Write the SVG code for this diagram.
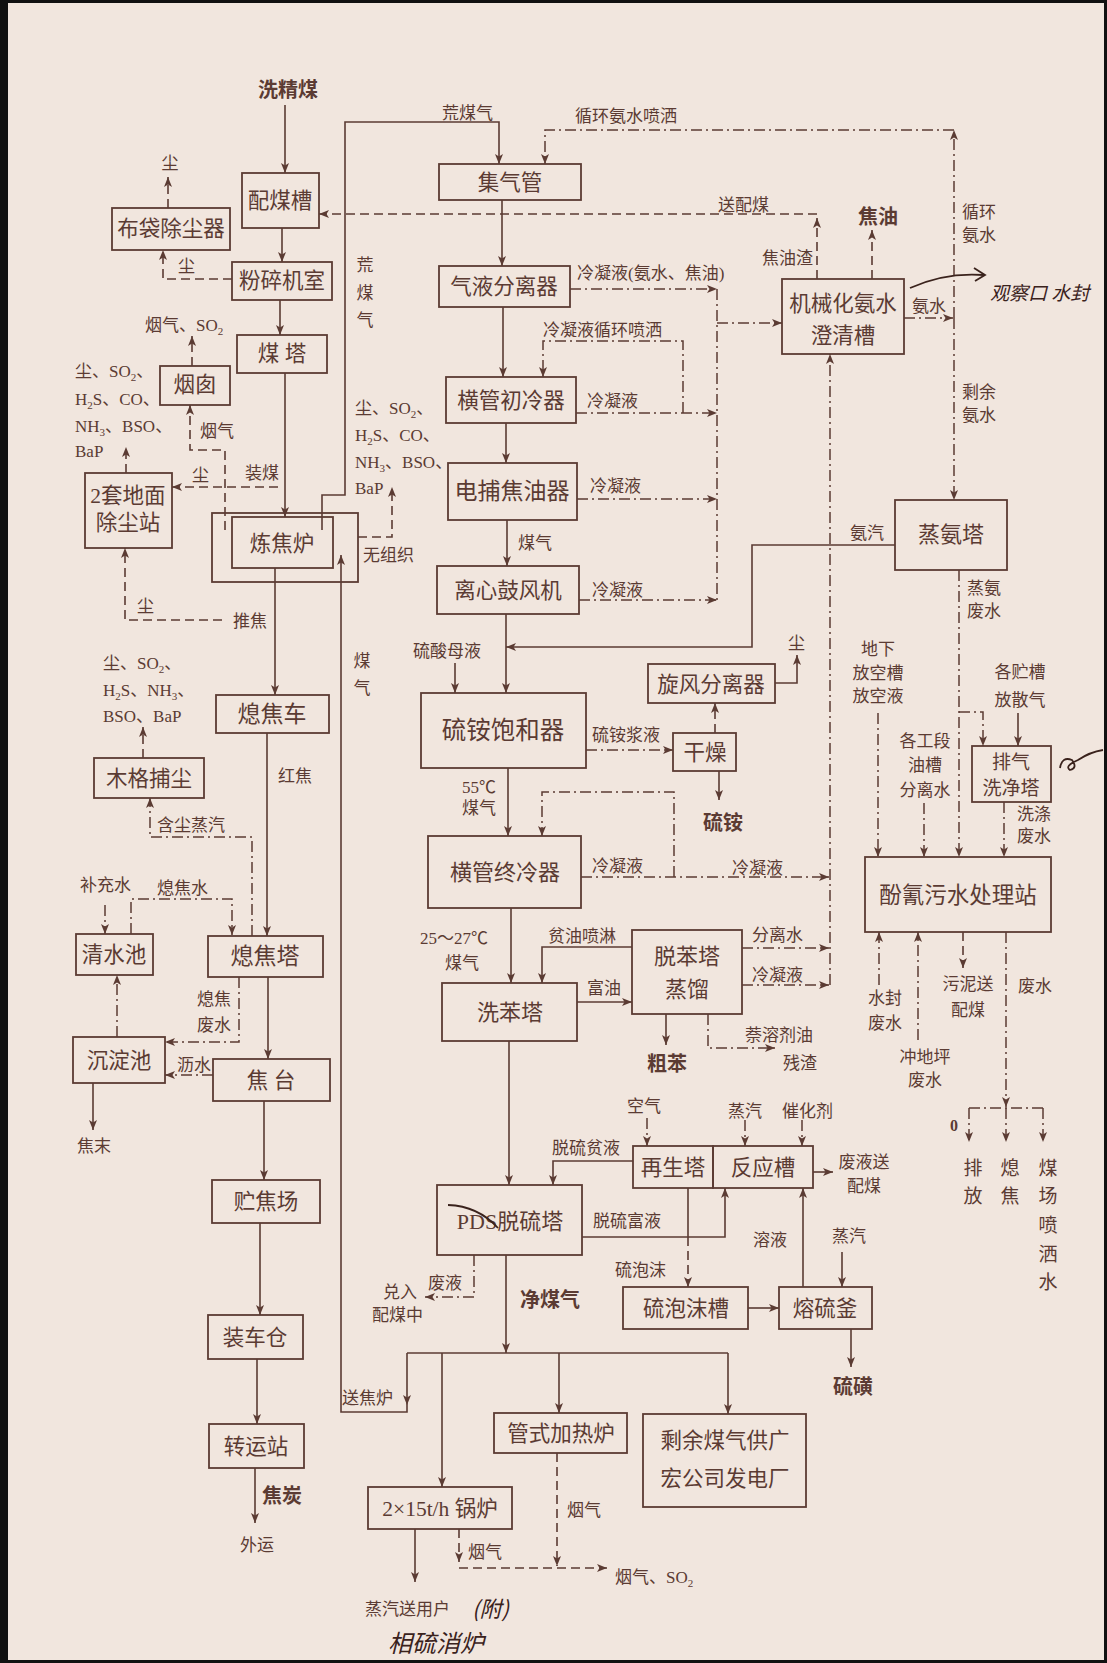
<svg xmlns="http://www.w3.org/2000/svg" width="1107" height="1663" viewBox="0 0 1107 1663">
<defs>
<marker id="ah" markerUnits="userSpaceOnUse" markerWidth="11" markerHeight="8" refX="10" refY="4" orient="auto">
<path d="M0,0 L10,4 L0,8 L2.5,4 z" fill="#5b3b33"/>
</marker>
<style>
.s{fill:none;stroke:#5b3b33;stroke-width:1.6}
.d{fill:none;stroke:#5b3b33;stroke-width:1.6;stroke-dasharray:9 5}
.dd{fill:none;stroke:#5b3b33;stroke-width:1.5;stroke-dasharray:11 4 2 4}
.a{marker-end:url(#ah)}
.box{fill:none;stroke:#5b3b33;stroke-width:1.8}
text{font-family:"Liberation Serif","Noto Sans CJK SC",serif;fill:#5b3b33}
.bt{font-size:21.5px;text-anchor:middle}
.lb{font-size:17px}
.c{text-anchor:middle}
.b{font-weight:bold;font-size:20px}
.hw{font-family:"Noto Sans CJK SC",sans-serif;fill:#3a221c;font-size:24px;font-style:italic}
.hp{fill:none;stroke:#3a221c;stroke-width:1.8}
</style>
</defs>
<rect x="0" y="0" width="1107" height="1663" fill="#f1e6de"/>
<g id="frame" fill="#111">
<rect x="0" y="0" width="8" height="1663"/>
<rect x="0" y="0" width="1107" height="3"/>
<rect x="1104" y="0" width="3" height="1663"/>
<rect x="0" y="1660" width="1107" height="3"/>
</g>

<g id="connectors">
<!-- solid -->
<path class="s a" d="M285,105 V173"/>
<path class="s a" d="M282,228 V262"/>
<path class="s a" d="M280,300 V335"/>
<path class="s a" d="M285,373 V517"/>
<path class="s a" d="M275,568 V695"/>
<path class="s a" d="M267,733 V936"/>
<path class="s a" d="M268,977 V1059"/>
<path class="s a" d="M264,1101 V1180"/>
<path class="s a" d="M260,1223 V1315"/>
<path class="s a" d="M257,1359 V1424"/>
<path class="s a" d="M255,1468 V1523"/>
<path class="s a" d="M93,1083 V1130"/>
<path class="s a" d="M322,530 V495 H345 V122 H499 V164"/>
<path class="s a" d="M502,200 V266"/>
<path class="s a" d="M503,307 V377"/>
<path class="s a" d="M506,423 V463"/>
<path class="s a" d="M507,520 V566"/>
<path class="s a" d="M506,614 V693"/>
<path class="s a" d="M895,545 H752 V647 H506"/>
<path class="s a" d="M455,663 V693"/>
<path class="s a" d="M508,768 V836"/>
<path class="s a" d="M719,771 V800"/>
<path class="s a" d="M775,683 H797 V655"/>
<path class="s a" d="M511,908 V983"/>
<path class="s a" d="M632,947 H542 V983"/>
<path class="s a" d="M577,1002 H632"/>
<path class="s a" d="M666,1014 V1045"/>
<path class="s a" d="M509,1041 V1185"/>
<path class="s a" d="M633,1161 H553 V1185"/>
<path class="s a" d="M582,1237 H725 V1188"/>
<path class="s" d="M688,1188 V1237"/>
<path class="s a" d="M813,1172 H833"/>
<path class="s a" d="M803,1287 V1188"/>
<path class="s a" d="M842,1252 V1287"/>
<path class="s a" d="M851,1329 V1367"/>
<path class="s a" d="M748,1308 H779"/>
<path class="s a" d="M506,1255 V1353"/>
<path class="s" d="M407,1353 H728"/>
<path class="s a" d="M407,1353 V1405"/>
<path class="s a" d="M407,1405 V1412 H341 V555"/>
<path class="s a" d="M442,1353 V1487"/>
<path class="s a" d="M559,1353 V1413"/>
<path class="s a" d="M728,1353 V1414"/>
<path class="s a" d="M415,1529 V1582"/>
<path class="s a" d="M1018,713 V746"/>
<!-- dashed -->
<path class="d a" d="M168,208 V177"/>
<path class="d a" d="M232,279 H163 V250"/>
<path class="d a" d="M192,366 V336"/>
<path class="d a" d="M225,530 V450 H190 V405"/>
<path class="d a" d="M278,487 H172"/>
<path class="d a" d="M126,473 V447"/>
<path class="d a" d="M222,620 H125 V548"/>
<path class="d a" d="M143,758 V727"/>
<path class="d a" d="M358,537 H392 V487"/>
<path class="d a" d="M817,279 V218"/>
<path class="d a" d="M817,214 H319"/>
<path class="d a" d="M872,279 V230"/>
<path class="d a" d="M715,733 V703"/>
<path class="d a" d="M459,1529 V1562"/>
<path class="d a" d="M459,1568 H607"/>
<path class="d a" d="M557,1453 V1566"/>
<path class="d a" d="M688,1237 V1287"/>
<path class="d a" d="M963,932 V968"/>
<!-- dash-dot -->
<path class="dd a" d="M954,318 V130"/>
<path class="dd a" d="M954,130 H545 V164"/>
<path class="dd a" d="M954,318 V500"/>
<path class="dd a" d="M904,318 H953"/>
<path class="dd a" d="M570,289 H717"/>
<path class="dd" d="M717,289 V604"/>
<path class="dd a" d="M717,323 H782"/>
<path class="dd a" d="M576,413 H717"/>
<path class="dd a" d="M683,413 V341 H543 V377"/>
<path class="dd a" d="M577,499 H717"/>
<path class="dd a" d="M579,600 H717"/>
<path class="dd a" d="M586,750 H673"/>
<path class="dd a" d="M674,877 V792 H542 V836"/>
<path class="dd a" d="M581,877 H829"/>
<path class="dd a" d="M742,948 H829"/>
<path class="dd a" d="M742,985 H829"/>
<path class="dd a" d="M830,985 V354"/>
<path class="dd a" d="M708,1014 V1048 H775"/>
<path class="dd a" d="M878,713 V857"/>
<path class="dd a" d="M924,803 V857"/>
<path class="dd a" d="M959,570 V857"/>
<path class="dd a" d="M959,712 H983 V746"/>
<path class="dd a" d="M1004,802 V857"/>
<path class="dd a" d="M879,985 V932"/>
<path class="dd a" d="M918,1040 V932"/>
<path class="dd a" d="M1006,932 V1107"/>
<path class="dd" d="M969,1108 H1043"/>
<path class="dd a" d="M969,1108 V1142"/>
<path class="dd a" d="M1006,1108 V1142"/>
<path class="dd a" d="M1043,1108 V1142"/>
<path class="dd a" d="M131,934 V899 H232 V935"/>
<path class="dd a" d="M105,905 V934"/>
<path class="dd a" d="M252,936 V837 H150 V798"/>
<path class="dd a" d="M239,977 V1042 H165"/>
<path class="dd a" d="M213,1075 H165"/>
<path class="dd a" d="M117,1037 V975"/>
<path class="dd a" d="M474,1255 V1297 H425"/>
<path class="dd a" d="M647,1118 V1146"/>
<path class="dd a" d="M745,1120 V1146"/>
<path class="dd a" d="M802,1120 V1146"/>
</g>

<g id="n-peimeicao"><rect class="box" x="242" y="173" width="77" height="55"/><text class="bt" x="280" y="208">配煤槽</text></g>
<g id="n-budai"><rect class="box" x="112" y="208" width="118" height="42"/><text class="bt" x="171" y="236">布袋除尘器</text></g>
<g id="n-fensui"><rect class="box" x="232" y="262" width="100" height="38"/><text class="bt" x="282" y="288">粉碎机室</text></g>
<g id="n-meita"><rect class="box" x="237" y="335" width="90" height="38"/><text class="bt" x="282" y="361">煤 塔</text></g>
<g id="n-yancong"><rect class="box" x="160" y="366" width="70" height="39"/><text class="bt" x="195" y="392">烟囱</text></g>
<g id="n-dimian"><rect class="box" x="85" y="473" width="87" height="75"/><text class="bt" x="128" y="503">2套地面</text><text class="bt" x="128" y="530">除尘站</text></g>
<g id="n-lianjiaolu"><rect class="box" x="212" y="513" width="146" height="69"/><rect class="box" x="232" y="517" width="101" height="51"/><text class="bt" x="282" y="551">炼焦炉</text></g>
<g id="n-xijiaoche"><rect class="box" x="216" y="695" width="113" height="38"/><text class="bt" x="272" y="722" style="font-size:23px">熄焦车</text></g>
<g id="n-muge"><rect class="box" x="94" y="758" width="110" height="40"/><text class="bt" x="149" y="786">木格捕尘</text></g>
<g id="n-qingshuichi"><rect class="box" x="76" y="934" width="77" height="41"/><text class="bt" x="114" y="962">清水池</text></g>
<g id="n-xijiaota"><rect class="box" x="208" y="936" width="115" height="41"/><text class="bt" x="265" y="964" style="font-size:23px">熄焦塔</text></g>
<g id="n-chendianchi"><rect class="box" x="73" y="1037" width="92" height="46"/><text class="bt" x="119" y="1068">沉淀池</text></g>
<g id="n-jiaotai"><rect class="box" x="213" y="1059" width="117" height="42"/><text class="bt" x="271" y="1088">焦 台</text></g>
<g id="n-zhujiaochang"><rect class="box" x="212" y="1180" width="108" height="43"/><text class="bt" x="266" y="1209">贮焦场</text></g>
<g id="n-zhuangchecang"><rect class="box" x="208" y="1315" width="95" height="44"/><text class="bt" x="255" y="1345">装车仓</text></g>
<g id="n-zhuanyunzhan"><rect class="box" x="209" y="1424" width="95" height="44"/><text class="bt" x="256" y="1454">转运站</text></g>
<g id="n-jiqiguan"><rect class="box" x="439" y="164" width="142" height="36"/><text class="bt" x="510" y="190">集气管</text></g>
<g id="n-qiye"><rect class="box" x="439" y="266" width="131" height="41"/><text class="bt" x="504" y="294">气液分离器</text></g>
<g id="n-chuleng"><rect class="box" x="446" y="377" width="130" height="46"/><text class="bt" x="511" y="408">横管初冷器</text></g>
<g id="n-dianbu"><rect class="box" x="448" y="463" width="129" height="57"/><text class="bt" x="512" y="499" style="font-size:23px">电捕焦油器</text></g>
<g id="n-gufengji"><rect class="box" x="437" y="566" width="142" height="48"/><text class="bt" x="508" y="598">离心鼓风机</text></g>
<g id="n-liuan"><rect class="box" x="421" y="693" width="165" height="75"/><text class="bt" x="503" y="739" style="font-size:24.5px">硫铵饱和器</text></g>
<g id="n-xuanfeng"><rect class="box" x="648" y="664" width="127" height="39"/><text class="bt" x="711" y="692">旋风分离器</text></g>
<g id="n-ganzao"><rect class="box" x="673" y="733" width="63" height="38"/><text class="bt" x="705" y="760">干燥</text></g>
<g id="n-zhongleng"><rect class="box" x="428" y="836" width="153" height="72"/><text class="bt" x="505" y="880" style="font-size:22px">横管终冷器</text></g>
<g id="n-xibenta"><rect class="box" x="442" y="983" width="135" height="58"/><text class="bt" x="510" y="1020" style="font-size:22px">洗苯塔</text></g>
<g id="n-tuoben"><rect class="box" x="632" y="930" width="110" height="84"/><text class="bt" x="687" y="964" style="font-size:22px">脱苯塔</text><text class="bt" x="687" y="997" style="font-size:22px">蒸馏</text></g>
<g id="n-zaisheng"><rect class="box" x="633" y="1146" width="80" height="42"/><text class="bt" x="673" y="1175">再生塔</text></g>
<g id="n-fanying"><rect class="box" x="713" y="1146" width="100" height="42"/><text class="bt" x="763" y="1175">反应槽</text></g>
<g id="n-pds"><rect class="box" x="437" y="1185" width="145" height="70"/><text class="bt" x="510" y="1229" style="font-size:22px">PDS脱硫塔</text><path class="hp" d="M448,1205 Q478,1206 498,1228" stroke-width="1.4"/></g>
<g id="n-paomocao"><rect class="box" x="623" y="1287" width="125" height="42"/><text class="bt" x="686" y="1316">硫泡沫槽</text></g>
<g id="n-rongliufu"><rect class="box" x="779" y="1287" width="93" height="42"/><text class="bt" x="825" y="1316">熔硫釜</text></g>
<g id="n-guanshi"><rect class="box" x="494" y="1413" width="133" height="40"/><text class="bt" x="561" y="1441">管式加热炉</text></g>
<g id="n-shengyu"><rect class="box" x="643" y="1414" width="163" height="93"/><text class="bt" x="725" y="1448">剩余煤气供广</text><text class="bt" x="725" y="1486">宏公司发电厂</text></g>
<g id="n-guolu"><rect class="box" x="368" y="1487" width="144" height="42"/><text class="bt" x="440" y="1516">2×15t/h 锅炉</text></g>
<g id="n-chengqing"><rect class="box" x="782" y="279" width="122" height="75"/><text class="bt" x="843" y="311">机械化氨水</text><text class="bt" x="843" y="343">澄清槽</text></g>
<g id="n-zhengan"><rect class="box" x="895" y="500" width="112" height="70"/><text class="bt" x="951" y="542" style="font-size:22px">蒸氨塔</text></g>
<g id="n-paiqi"><rect class="box" x="972" y="746" width="79" height="56"/><text class="bt" x="1011" y="769" style="font-size:19px">排气</text><text class="bt" x="1011" y="795" style="font-size:19px">洗净塔</text></g>
<g id="n-fenqing"><rect class="box" x="865" y="857" width="186" height="75"/><text class="bt" x="958" y="903" style="font-size:22.5px">酚氰污水处理站</text></g>

<g id="labels">
<text class="b c" x="288" y="97">洗精煤</text>
<text class="lb c" x="170" y="169">尘</text>
<text class="lb" x="178" y="272">尘</text>
<text class="lb" x="145" y="331">烟气、SO<tspan font-size="11" dy="4">2</tspan></text>
<text class="lb" x="75" y="377">尘、SO<tspan font-size="11" dy="4">2</tspan><tspan dy="-4">、</tspan></text>
<text class="lb" x="75" y="405">H<tspan font-size="11" dy="4">2</tspan><tspan dy="-4">S、CO、</tspan></text>
<text class="lb" x="75" y="432">NH<tspan font-size="11" dy="4">3</tspan><tspan dy="-4">、BSO、</tspan></text>
<text class="lb" x="75" y="457">BaP</text>
<text class="lb" x="200" y="437">烟气</text>
<text class="lb" x="192" y="481">尘</text>
<text class="lb" x="245" y="479">装煤</text>
<text class="lb" x="363" y="561">无组织</text>
<text class="lb" x="233" y="627">推焦</text>
<text class="lb" x="137" y="612">尘</text>
<text class="lb" x="103" y="669">尘、SO<tspan font-size="11" dy="4">2</tspan><tspan dy="-4">、</tspan></text>
<text class="lb" x="103" y="696">H<tspan font-size="11" dy="4">2</tspan><tspan dy="-4">S、NH</tspan><tspan font-size="11" dy="4">3</tspan><tspan dy="-4">、</tspan></text>
<text class="lb" x="103" y="722">BSO、BaP</text>
<text class="lb" x="278" y="782">红焦</text>
<text class="lb" x="157" y="831">含尘蒸汽</text>
<text class="lb" x="80" y="891">补充水</text>
<text class="lb" x="157" y="894">熄焦水</text>
<text class="lb" x="197" y="1005">熄焦</text>
<text class="lb" x="197" y="1031">废水</text>
<text class="lb" x="177" y="1071">沥水</text>
<text class="lb" x="77" y="1152">焦末</text>
<text class="b" x="262" y="1503">焦炭</text>
<text class="lb" x="240" y="1551">外运</text>
<text class="lb c" x="362" y="667">煤</text>
<text class="lb c" x="362" y="694">气</text>
<text class="lb c" x="365" y="271">荒</text>
<text class="lb c" x="365" y="299">煤</text>
<text class="lb c" x="365" y="326">气</text>
<text class="lb" x="442" y="119">荒煤气</text>
<text class="lb" x="575" y="122">循环氨水喷洒</text>
<text class="lb" x="718" y="211">送配煤</text>
<text class="b" x="858" y="224">焦油</text>
<text class="lb" x="762" y="264">焦油渣</text>
<text class="lb" x="577" y="279">冷凝液(氨水、焦油)</text>
<text class="lb" x="962" y="218">循环</text>
<text class="lb" x="962" y="241">氨水</text>
<text class="lb" x="912" y="312">氨水</text>
<text class="lb" x="543" y="336">冷凝液循环喷洒</text>
<text class="lb" x="587" y="407">冷凝液</text>
<text class="lb" x="962" y="398">剩余</text>
<text class="lb" x="962" y="421">氨水</text>
<text class="lb" x="355" y="414">尘、SO<tspan font-size="11" dy="4">2</tspan><tspan dy="-4">、</tspan></text>
<text class="lb" x="355" y="441">H<tspan font-size="11" dy="4">2</tspan><tspan dy="-4">S、CO、</tspan></text>
<text class="lb" x="355" y="468">NH<tspan font-size="11" dy="4">3</tspan><tspan dy="-4">、BSO、</tspan></text>
<text class="lb" x="355" y="494">BaP</text>
<text class="lb" x="590" y="492">冷凝液</text>
<text class="lb" x="518" y="549">煤气</text>
<text class="lb" x="850" y="539">氨汽</text>
<text class="lb" x="592" y="596">冷凝液</text>
<text class="lb" x="967" y="594">蒸氨</text>
<text class="lb" x="967" y="617">废水</text>
<text class="lb" x="788" y="649">尘</text>
<text class="lb c" x="878" y="655">地下</text>
<text class="lb c" x="878" y="679">放空槽</text>
<text class="lb c" x="878" y="702">放空液</text>
<text class="lb" x="413" y="657">硫酸母液</text>
<text class="lb c" x="1020" y="678">各贮槽</text>
<text class="lb c" x="1020" y="706">放散气</text>
<text class="lb" x="592" y="741">硫铵浆液</text>
<text class="lb c" x="925" y="747">各工段</text>
<text class="lb c" x="925" y="771">油槽</text>
<text class="lb c" x="925" y="796">分离水</text>
<text class="lb" x="462" y="793">55℃</text>
<text class="lb" x="462" y="814">煤气</text>
<text class="b c" x="723" y="830">硫铵</text>
<text class="lb" x="1017" y="820">洗涤</text>
<text class="lb" x="1017" y="842">废水</text>
<text class="lb" x="592" y="872">冷凝液</text>
<text class="lb" x="732" y="874">冷凝液</text>
<text class="lb" x="420" y="944">25～27℃</text>
<text class="lb" x="445" y="969">煤气</text>
<text class="lb" x="548" y="942">贫油喷淋</text>
<text class="lb" x="752" y="941">分离水</text>
<text class="lb" x="752" y="981">冷凝液</text>
<text class="lb" x="587" y="994">富油</text>
<text class="lb c" x="885" y="1004">水封</text>
<text class="lb c" x="885" y="1029">废水</text>
<text class="lb c" x="968" y="990">污泥送</text>
<text class="lb c" x="968" y="1016">配煤</text>
<text class="lb" x="1018" y="992">废水</text>
<text class="lb" x="745" y="1041">萘溶剂油</text>
<text class="lb" x="783" y="1069">残渣</text>
<text class="b" x="647" y="1071">粗苯</text>
<text class="lb c" x="925" y="1063">冲地坪</text>
<text class="lb c" x="925" y="1086">废水</text>
<text class="lb" x="627" y="1112">空气</text>
<text class="lb" x="728" y="1117">蒸汽</text>
<text class="lb" x="782" y="1117">催化剂</text>
<text class="b" x="950" y="1131" style="font-size:16px">0</text>
<text class="lb" x="552" y="1154">脱硫贫液</text>
<text class="lb c" x="864" y="1168">废液送</text>
<text class="lb c" x="864" y="1192">配煤</text>
<text class="lb c" x="973" y="1175" style="font-size:19px">排</text>
<text class="lb c" x="973" y="1203" style="font-size:19px">放</text>
<text class="lb c" x="1010" y="1175" style="font-size:19px">熄</text>
<text class="lb c" x="1010" y="1203" style="font-size:19px">焦</text>
<text class="lb c" x="1048" y="1175" style="font-size:19px">煤</text>
<text class="lb c" x="1048" y="1203" style="font-size:19px">场</text>
<text class="lb c" x="1048" y="1232" style="font-size:19px">喷</text>
<text class="lb c" x="1048" y="1261" style="font-size:19px">洒</text>
<text class="lb c" x="1048" y="1289" style="font-size:19px">水</text>
<text class="lb" x="593" y="1227">脱硫富液</text>
<text class="lb" x="753" y="1246">溶液</text>
<text class="lb" x="832" y="1242">蒸汽</text>
<text class="lb" x="615" y="1276">硫泡沫</text>
<text class="lb" x="428" y="1289">废液</text>
<text class="lb" x="383" y="1298">兑入</text>
<text class="lb" x="372" y="1321">配煤中</text>
<text class="b" x="520" y="1307">净煤气</text>
<text class="b" x="833" y="1394">硫磺</text>
<text class="lb" x="342" y="1404">送焦炉</text>
<text class="lb" x="567" y="1516">烟气</text>
<text class="lb" x="468" y="1558">烟气</text>
<text class="lb" x="615" y="1583">烟气、SO<tspan font-size="11" dy="4">2</tspan></text>
<text class="lb" x="365" y="1615">蒸汽送用户</text>
</g>

<g id="handwriting">
<path class="hp" d="M910,288 Q945,272 984,275"/>
<path class="hp" d="M974,268 L985,275 L975,281"/>
<text class="hw" x="990" y="300" style="font-size:19px">观察口 水封</text>
<path class="hp" d="M1060,768 Q1062,756 1072,760 Q1078,768 1070,770 Q1064,766 1078,760 Q1090,752 1103,750"/>
<text class="hw" x="472" y="1617" style="font-size:22px">(附)</text>
<text class="hw" x="388" y="1652" style="font-size:24px">相硫消炉</text>
</g>
</svg>
